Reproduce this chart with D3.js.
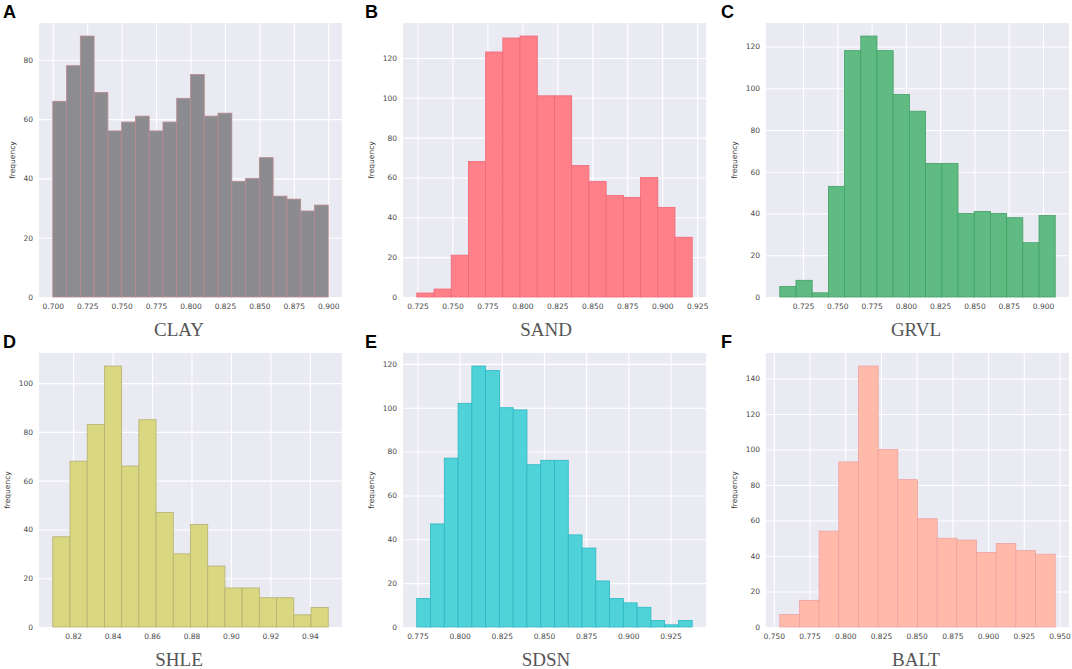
<!DOCTYPE html>
<html>
<head>
<meta charset="utf-8">
<script src="https://cdn.jsdelivr.net/npm/d3@7/dist/d3.min.js"></script>
<style>
    body { margin: 0; background: #fff; }
    .tickText { font-family: "DejaVu Sans", sans-serif; font-size: 7.5px; fill: #4a4a4a; }
    .freqLabel { font-family: "DejaVu Sans", sans-serif; font-size: 7.5px; fill: #3a3a3a; }
    .panelTitle { font-family: "Liberation Serif", "Times New Roman", serif; font-size: 19px; fill: #555; }
    .panelLetter { font-family: "Liberation Sans", Arial, sans-serif; font-size: 18px; font-weight: bold; fill: #000; }
</style>
</head>
<body>
<div id="chart"></div>
<script>

// ---- data ----
var panelLetters = ["A", "B", "C", "D", "E", "F"];
var soilNames = ["CLAY", "SAND", "GRVL", "SHLE", "SDSN", "BALT"];

// left edge of the first bin and bin width for every histogram
var binStart = [0.700, 0.7245, 0.708, 0.8097, 0.7746, 0.7542];
var binWidth = [0.010, 0.01231, 0.01182, 0.008725, 0.008165, 0.01377];

var clayCounts = [66, 78, 88, 69, 56, 59, 61, 56, 59, 67, 75, 61, 62, 39, 40, 47, 34, 33, 29, 31];
var sandCounts = [2, 4, 21, 68, 123, 130, 131, 101, 101, 66, 58, 51, 50, 60, 45, 30];
var grvlCounts = [5, 8, 2, 53, 118, 125, 118, 97, 89, 64, 64, 40, 41, 40, 38, 26, 39];
var shleCounts = [37, 68, 83, 107, 66, 85, 47, 30, 42, 25, 16, 16, 12, 12, 5, 8];
var sdsnCounts = [13, 47, 77, 102, 119, 117, 100, 99, 74, 76, 76, 42, 36, 21, 13, 11, 9, 3, 1, 3];
var baltCounts = [7, 15, 54, 93, 147, 100, 83, 61, 50, 49, 42, 47, 43, 41];

var clayXTicks = [0.700, 0.725, 0.750, 0.775, 0.800, 0.825, 0.850, 0.875, 0.900];
var sandXTicks = [0.725, 0.750, 0.775, 0.800, 0.825, 0.850, 0.875, 0.900, 0.925];
var grvlXTicks = [0.725, 0.750, 0.775, 0.800, 0.825, 0.850, 0.875, 0.900];
var shleXTicks = [0.82, 0.84, 0.86, 0.88, 0.90, 0.92, 0.94];
var sdsnXTicks = [0.775, 0.800, 0.825, 0.850, 0.875, 0.900, 0.925];
var baltXTicks = [0.750, 0.775, 0.800, 0.825, 0.850, 0.875, 0.900, 0.925, 0.950];

var clayYTicks = [0, 20, 40, 60, 80];
var sandYTicks = [0, 20, 40, 60, 80, 100, 120];
var grvlYTicks = [0, 20, 40, 60, 80, 100, 120];
var shleYTicks = [0, 20, 40, 60, 80, 100];
var sdsnYTicks = [0, 20, 40, 60, 80, 100, 120];
var baltYTicks = [0, 20, 40, 60, 80, 100, 120, 140];

var allCounts = [clayCounts, sandCounts, grvlCounts, shleCounts, sdsnCounts, baltCounts];
var allXTicks = [clayXTicks, sandXTicks, grvlXTicks, shleXTicks, sdsnXTicks, baltXTicks];
var allYTicks = [clayYTicks, sandYTicks, grvlYTicks, shleYTicks, sdsnYTicks, baltYTicks];
var xFormats = [".3f", ".3f", ".3f", ".2f", ".3f", ".3f"];

// ---- styles and layout ----
var barStyles = [
    {fill: "#8c8c90", edge: "#b98a8e"},
    {fill: "#ff8088", edge: "#f0687a"},
    {fill: "#5fbb82", edge: "#43a066"},
    {fill: "#d9d77f", edge: "#b5b173"},
    {fill: "#4fd3d9", edge: "#2bb7c3"},
    {fill: "#ffbaa9", edge: "#efa2a2"}
];
var colLeft = [39, 403, 766];
var rowTop = [23, 353];
var letterX = [3, 365, 721];
var titleX = [179, 546, 916];

/**
 * Constructor for one histogram panel
 */
function HistogramPanel(svg, index){
    var self = this;
    self.index = index;
    self.col = index % 3;
    self.row = Math.floor(index / 3);
    self.width = 303;
    self.height = 274;
    self.left = colLeft[self.col];
    self.top = rowTop[self.row];
    self.svg = svg;
    self.init();
};

/**
 * Builds scales, background, grid, axes and the bars
 */
HistogramPanel.prototype.init = function(){
    var self = this;
    var i = self.index;
    var counts = allCounts[i];
    var lo = binStart[i];
    var hi = binStart[i] + binWidth[i] * counts.length;
    var pad = (hi - lo) * 0.05;

    var bins = counts.map(function(c, k){
        return {x0: lo + k * binWidth[i], x1: lo + (k + 1) * binWidth[i], count: c};
    });

    self.xScale = d3.scaleLinear()
        .domain([lo - pad, hi + pad])
        .range([0, self.width]);
    self.yScale = d3.scaleLinear()
        .domain([0, d3.max(counts) * 1.05])
        .range([self.height, 0]);

    var g = self.svg.append("g")
        .attr("transform", "translate(" + self.left + "," + self.top + ")");

    g.append("rect")
        .attr("width", self.width)
        .attr("height", self.height)
        .attr("fill", "#eaeaf2");

    //x axis, tick lines double as the white grid
    var xAxisG = g.append("g")
        .attr("transform", "translate(0," + self.height + ")")
        .call(d3.axisBottom(self.xScale)
            .tickValues(allXTicks[i])
            .tickFormat(d3.format(xFormats[i]))
            .tickSize(-self.height)
            .tickPadding(7));

    var yAxisG = g.append("g")
        .call(d3.axisLeft(self.yScale)
            .tickValues(allYTicks[i])
            .tickSize(-self.width)
            .tickPadding(6));

    [xAxisG, yAxisG].forEach(function(ax){
        ax.select(".domain").remove();
        ax.selectAll(".tick line")
            .attr("stroke", "#ffffff")
            .attr("stroke-width", 1.1);
        ax.selectAll(".tick text")
            .attr("class", "tickText")
            .attr("fill", null);
    });
    //0 row of the y grid sits on the bottom edge, hide it like matplotlib does
    yAxisG.selectAll(".tick line")
        .filter(function(d){ return d == 0; })
        .remove();

    g.append("g")
        .selectAll("rect")
        .data(bins)
        .enter()
        .append("rect")
        .attr("x", function(d){ return self.xScale(d.x0); })
        .attr("y", function(d){ return self.yScale(d.count); })
        .attr("width", function(d){ return self.xScale(d.x1) - self.xScale(d.x0); })
        .attr("height", function(d){ return self.height - self.yScale(d.count); })
        .attr("fill", barStyles[i].fill)
        .attr("stroke", barStyles[i].edge)
        .attr("stroke-width", 0.8);

    //y label sits left of the widest tick label
    var maxLen = 0;
    yAxisG.selectAll(".tick text").each(function(){
        maxLen = Math.max(maxLen, this.getComputedTextLength());
    });
    var labelX = -6 - maxLen - 11;
    g.append("text")
        .attr("class", "freqLabel")
        .attr("transform", "translate(" + labelX + "," + (self.height / 2) + ") rotate(-90)")
        .attr("text-anchor", "middle")
        .attr("dy", "0.35em")
        .text("frequency");

    self.svg.append("text")
        .attr("class", "panelTitle")
        .attr("x", titleX[self.col])
        .attr("y", self.top + self.height + 39)
        .attr("text-anchor", "middle")
        .text(soilNames[i]);

    self.svg.append("text")
        .attr("class", "panelLetter")
        .attr("x", letterX[self.col])
        .attr("y", self.top - 5)
        .text(panelLetters[i]);
};

var svg = d3.select("#chart").append("svg")
    .attr("width", 1072)
    .attr("height", 669);

svg.append("rect")
    .attr("width", 1072)
    .attr("height", 669)
    .attr("fill", "#ffffff");

var panels = [];
for (var p = 0; p < 6; ++p) {
    panels.push(new HistogramPanel(svg, p));
}

</script>
</body>
</html>
